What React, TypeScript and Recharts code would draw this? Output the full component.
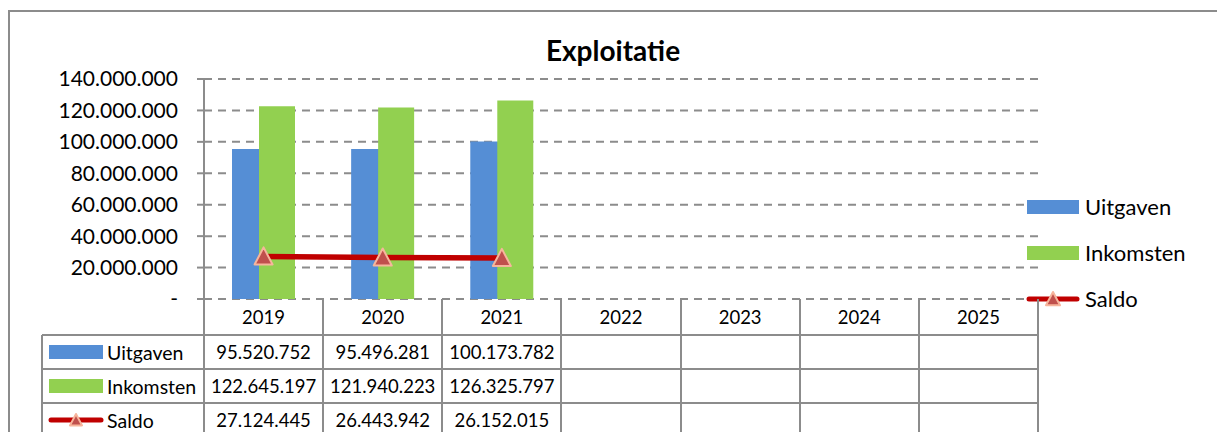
import React from 'react';
import { ComposedChart, Bar, Line, XAxis, YAxis, CartesianGrid } from 'recharts';

const years = ['2019', '2020', '2021', '2022', '2023', '2024', '2025'];
const uitgaven = [95520752, 95496281, 100173782, null, null, null, null];
const inkomsten = [122645197, 121940223, 126325797, null, null, null, null];
const saldo = [27124445, 26443942, 26152015, null, null, null, null];
const yTicks = [0, 20000000, 40000000, 60000000, 80000000, 100000000, 120000000, 140000000];

const BLUE = '#558ED5';
const GREEN = '#92D050';
const RED = '#C00000';
const MARKER = '#C0504D';
const MARKER_EDGE = '#F7B59C';
const GRID = '#8C8C8C';
const FONT = 'Lato, sans-serif';

const data = years.map((year, i) => ({
    year,
    uitgaven: uitgaven[i],
    inkomsten: inkomsten[i],
    saldo: saldo[i],
}));

const series = [
    { key: 'uitgaven', name: 'Uitgaven', type: 'bar', color: BLUE, values: uitgaven },
    { key: 'inkomsten', name: 'Inkomsten', type: 'bar', color: GREEN, values: inkomsten },
    { key: 'saldo', name: 'Saldo', type: 'line', color: RED, values: saldo },
];

// dots as thousands separator (nl)
const fmt = (v: number | null) =>
    v == null ? '' : v === 0 ? '-' : String(v).replace(/\B(?=(\d{3})+(?!\d))/g, '.');

// plot geometry
const W = 1217;
const PLOT_L = 204;
const PLOT_R = 1038;
const PLOT_T = 79;
const PLOT_B = 299;
const CHART_H = 310;
const COL_W = (PLOT_R - PLOT_L) / years.length;

const Triangle = ({ cx, cy, size = 9 }: any) => {
    if (cx == null || cy == null) return null;
    const s = size;
    return (
        <path
            d={`M${cx},${cy - s} L${cx + s},${cy + s * 0.9} L${cx - s},${cy + s * 0.9} Z`}
            fill={MARKER}
            stroke={MARKER_EDGE}
            strokeWidth={2}
            strokeLinejoin="round"
        />
    );
};

const Swatch = ({ s, w = 52, tri = 7 }: { s: any; w?: number; tri?: number }) => (
    <svg width={w + 4} height={20} style={{ display: 'block' }}>
        {s.type === 'bar' ? (
            <rect x={2} y={3} width={w} height={14} fill={s.color} />
        ) : (
            <g>
                <line x1={4} y1={10} x2={w} y2={10} stroke={s.color} strokeWidth={5} strokeLinecap="round" />
                <Triangle cx={w / 2 + 2} cy={10} size={tri} />
            </g>
        )}
    </svg>
);

const hLine = (x1: number, x2: number, y: number, key: string) => (
    <div key={key} style={{ position: 'absolute', left: x1, top: y - 1, width: x2 - x1, height: 2, background: GRID }} />
);
const vLine = (x: number, y1: number, y2: number, key: string) => (
    <div key={key} style={{ position: 'absolute', left: x - 1, top: y1, width: 2, height: y2 - y1, background: GRID }} />
);

const TABLE_L = 42;
const HEADER_B = 335;
const ROW_H = 34;

export default function App() {
    const lines: React.ReactNode[] = [];
    series.forEach((_, r) => lines.push(hLine(TABLE_L, PLOT_R, HEADER_B + r * ROW_H, 'h' + r)));
    lines.push(vLine(TABLE_L, HEADER_B, 432, 'vl'));
    for (let c = 0; c <= years.length; c++) lines.push(vLine(PLOT_L + c * COL_W, PLOT_B, 432, 'v' + c));

    return (
        <div style={{ position: 'absolute', left: 0, top: 0, width: W, height: 432, overflow: 'hidden', background: '#fff', fontFamily: FONT, color: '#000' }}>
            {/* frame */}
            <div style={{ position: 'absolute', left: 8, top: 10, width: W, height: 500, borderLeft: `2px solid ${GRID}`, borderTop: `2px solid ${GRID}` }} />

            <div style={{ position: 'absolute', left: 0, top: 33, width: 1226, textAlign: 'center', fontSize: 28, fontWeight: 700, lineHeight: '34px' }}>
                Exploitatie
            </div>

            <div style={{ position: 'absolute', left: 0, top: 0 }}>
                <ComposedChart
                    width={W}
                    height={CHART_H}
                    data={data}
                    margin={{ top: PLOT_T, right: W - PLOT_R, bottom: CHART_H - PLOT_B, left: 0 }}
                    barSize={36}
                    barGap={-9}
                >
                    <CartesianGrid vertical={false} stroke={GRID} strokeWidth={2} strokeDasharray="8 6" />
                    <XAxis dataKey="year" height={0} tick={false} tickLine={false} axisLine={{ stroke: GRID, strokeWidth: 2 }} />
                    <YAxis
                        width={PLOT_L}
                        domain={[0, 140000000]}
                        ticks={yTicks}
                        tickFormatter={fmt}
                        tickSize={7}
                        tickMargin={19}
                        tickLine={{ stroke: GRID, strokeWidth: 2 }}
                        axisLine={{ stroke: GRID, strokeWidth: 2 }}
                        tick={{ fill: '#000', fontSize: 21, fontFamily: FONT }}
                        interval={0}
                    />
                    <Bar dataKey="uitgaven" name="Uitgaven" fill={BLUE} isAnimationActive={false} />
                    <Bar dataKey="inkomsten" name="Inkomsten" fill={GREEN} isAnimationActive={false} />
                    <Line
                        dataKey="saldo"
                        name="Saldo"
                        type="linear"
                        stroke={RED}
                        strokeWidth={5.5}
                        dot={(p: any) => <Triangle key={p.index} cx={p.cx} cy={p.cy} size={9} />}
                        activeDot={false}
                        isAnimationActive={false}
                    />
                </ComposedChart>
            </div>

            {/* legend */}
            {series.map((s, i) => (
                <div key={s.key} style={{ position: 'absolute', left: 1025, top: 197 + i * 46, height: 20, display: 'flex', alignItems: 'center' }}>
                    <Swatch s={s} />
                    <span style={{ marginLeft: 4, fontSize: 22, lineHeight: '20px' }}>{s.name}</span>
                </div>
            ))}

            {/* data table */}
            {lines}
            {years.map((y, c) => (
                <div key={y} style={{ position: 'absolute', left: PLOT_L + c * COL_W, top: PLOT_B, width: COL_W, height: HEADER_B - PLOT_B, display: 'flex', alignItems: 'center', justifyContent: 'center', fontSize: 18.5 }}>
                    {y}
                </div>
            ))}
            {series.map((s, r) => (
                <React.Fragment key={s.key}>
                    <div style={{ position: 'absolute', left: TABLE_L + 5, top: HEADER_B + r * ROW_H, height: ROW_H, display: 'flex', alignItems: 'center', fontSize: 19.5 }}>
                        <Swatch s={s} w={54} tri={6} />
                        <span style={{ marginLeft: 2 }}>{s.name}</span>
                    </div>
                    {s.values.map((v, c) => (
                        <div key={c} style={{ position: 'absolute', left: PLOT_L + c * COL_W, top: HEADER_B + r * ROW_H, width: COL_W, height: ROW_H, display: 'flex', alignItems: 'center', justifyContent: 'center', fontSize: 18.5 }}>
                            {fmt(v)}
                        </div>
                    ))}
                </React.Fragment>
            ))}
        </div>
    );
}
